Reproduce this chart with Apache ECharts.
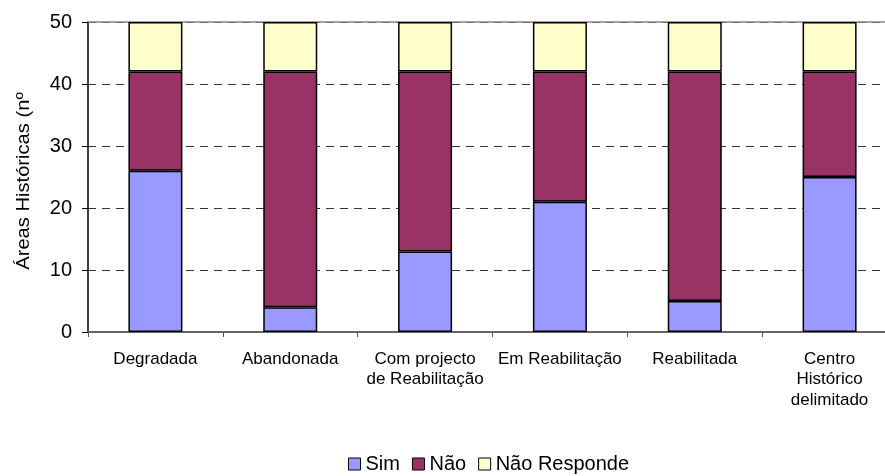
<!DOCTYPE html>
<html>
<head>
<meta charset="UTF-8">
<title>Áreas Históricas</title>
<script type="text/javascript" src="https://cdn.jsdelivr.net/npm/echarts@6/dist/echarts.min.js"></script>
<style>
  html, body{margin:0;background:#fff;overflow:hidden}
</style>
</head>
<body>
<!-- o grafico original corta a ultima categoria na margem direita -->
<div id="main" style="width:897px;height:476px"></div>
<script type="text/javascript">
// categorias e valores
var categorias = ['Degradada', 'Abandonada', 'Com projecto\nde Reabilitação', 'Em Reabilitação', 'Reabilitada', 'Centro\nHistórico\ndelimitado'];
var sim = [26, 4, 13, 21, 5, 25];
var nao = [16, 38, 29, 21, 37, 17];
var naoResponde = [8, 8, 8, 8, 8, 8];
var yTicks = [0, 10, 20, 30, 40, 50];

var fonte = 'Liberation Sans, Arial, sans-serif';
var myEcharts = echarts.init(document.getElementById('main'));

function serie(nome, cor, dados) {
  return {
    name: nome,
    type: 'bar',
    stack: 'total',
    barWidth: 54,
    data: dados,
    itemStyle: { color: cor, borderColor: '#000', borderWidth: 1.5 }
  };
}

var option = {
  animation: false,
  textStyle: { fontFamily: fonte },
  grid: { left: 88, top: 22, bottom: 144, right: 0 },
  legend: {
    bottom: -3,
    left: 343,
    itemWidth: 12,
    itemHeight: 12,
    itemGap: 12,
    icon: 'rect',
    textStyle: { fontSize: 20, color: '#000', fontFamily: fonte },
    data: [
      { name: 'Sim', itemStyle: { borderColor: '#000', borderWidth: 1 } },
      { name: 'Não', itemStyle: { borderColor: '#000', borderWidth: 1 } },
      { name: 'Não Responde', itemStyle: { borderColor: '#000', borderWidth: 1 } }
    ]
  },
  graphic: [{
    type: 'text',
    x: 24,
    y: 181,
    rotation: Math.PI / 2,
    scaleX: 1.06,
    style: {
      text: 'Áreas Históricas (nº',
      fontSize: 19,
      fontFamily: fonte,
      fill: '#000',
      align: 'center',
      verticalAlign: 'middle'
    }
  }],
  xAxis: [{
    type: 'category',
    data: categorias,
    axisLine: { lineStyle: { color: '#666', width: 2 } },
    axisTick: { show: true, length: 5, lineStyle: { color: '#555' } },
    axisLabel: { color: '#000', fontSize: 17, lineHeight: 20.5, margin: 17, interval: 0, fontFamily: fonte }
  }, {
    type: 'category',
    position: 'top',
    data: categorias,
    axisLine: { lineStyle: { color: '#888', width: 1.5 } },
    axisTick: { show: false },
    axisLabel: { show: false }
  }],
  yAxis: {
    type: 'value',
    min: yTicks[0],
    max: yTicks[yTicks.length - 1],
    interval: 10,
    axisLine: { show: true, lineStyle: { color: '#000', width: 1.5 } },
    axisTick: { show: true, length: 6, lineStyle: { color: '#000' } },
    axisLabel: { color: '#000', fontSize: 20, margin: 16, fontFamily: fonte },
    splitLine: { show: true, lineStyle: { color: '#333', type: [8, 6], width: 1 } }
  },
  series: [
    serie('Sim', '#9999FF', sim),
    serie('Não', '#993366', nao),
    serie('Não Responde', '#FFFFCC', naoResponde)
  ]
};
myEcharts.setOption(option);
</script>
</body>
</html>
